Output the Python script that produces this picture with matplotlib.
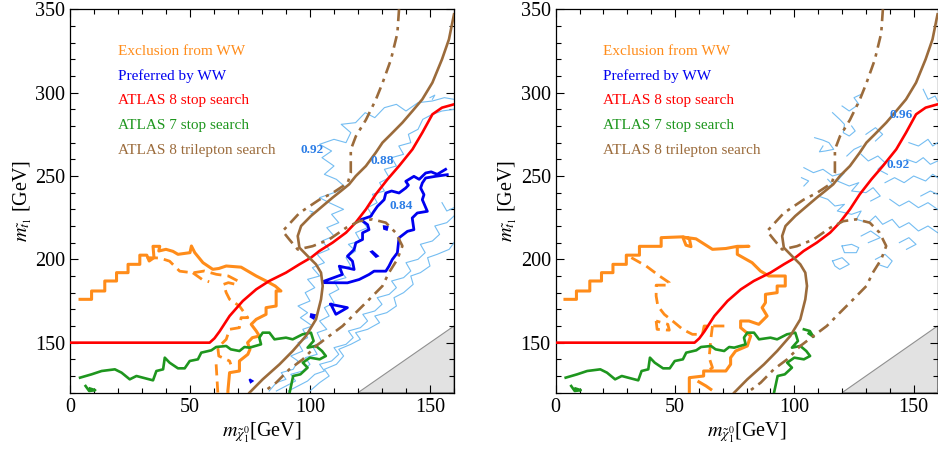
import numpy as np
import matplotlib
matplotlib.use("Agg")
import matplotlib.pyplot as plt
from matplotlib.ticker import MultipleLocator

plt.rcParams['font.family'] = ['Liberation Serif', 'DejaVu Serif']
plt.rcParams['mathtext.fontset'] = 'stix'

# ---- curves, (m_chi, m_stop) in GeV ----
atlas8_stop = [(0, 150), (58.2, 150), (60.2, 152.6), (62.3, 156.7), (66.5, 166), (72, 175),
               (77.6, 182), (83, 187), (90, 192), (95.6, 197), (100.4, 201), (103.9, 205),
               (109.4, 210), (115, 216), (119, 222), (123.3, 230), (127.4, 239), (132.3, 248),
               (137.1, 256), (142.7, 266), (146.8, 276), (151, 287), (155, 291), (160, 293)]

trilep_solid = [(74.8, 120), (80.3, 128), (87.3, 137), (92.8, 145), (98.3, 154), (102.5, 164),
                (104.6, 176), (105.3, 184), (104.6, 192), (102.5, 197), (99, 202), (95.6, 207),
                (94.9, 214), (96.3, 220), (100.4, 226), (105.3, 232), (109.4, 237), (112.9, 241),
                (116.3, 245), (119.1, 250), (123.3, 256), (127.4, 264), (130.2, 270), (133.7, 275),
                (138.5, 282), (142.7, 289), (146.8, 296), (151, 306), (155, 320), (157.9, 332),
                (160, 347)]

trilep_dashdot = [(137.1, 350), (136.4, 335.6), (133.7, 319.7), (130.2, 305.7), (127.4, 295.7),
                  (123.3, 283.7), (119.1, 273.8), (117, 265.8), (117, 251.8), (115.7, 245.8),
                  (109.4, 239.8), (103.9, 235.8), (95.6, 227.8), (88.6, 216.9), (91.4, 211.9),
                  (94.9, 205.9), (101.1, 207.9), (108, 211.9), (115, 218.9), (120.5, 222.9),
                  (126, 224), (131.6, 222), (135.7, 216), (138.5, 208), (136.4, 200), (132.9, 192),
                  (130.2, 184), (124.7, 176), (119.1, 168), (113.6, 160), (108, 154), (102.5, 148),
                  (97, 140), (91.4, 134), (85.9, 126), (80.3, 120)]

atlas7_stop = [(4.2, 129), (9, 131), (11.1, 132), (13.2, 133), (18.7, 134), (21.5, 132), (24.9, 128),
               (27.7, 130), (34.6, 127.4), (36, 133), (38.8, 134), (39.5, 141), (41.5, 138),
               (45, 134.6), (47.8, 134.6), (49.9, 139), (53.3, 140), (54.7, 144), (58.9, 145.4),
               (60.9, 147.4), (65.1, 148), (67, 146), (70.6, 145), (72.7, 147.4), (74.8, 147),
               (79.6, 149), (78.9, 153), (80.3, 156), (83.1, 156), (85.2, 152), (90, 153),
               (92.8, 152), (96.9, 155), (100.4, 156), (101.5, 151), (99, 147), (102.5, 148),
               (105, 145), (106.6, 142), (104, 140), (100, 141), (97, 138), (99, 135), (96, 131),
               (93, 130), (91.5, 120)]
atlas7_hook = [(6.5, 124), (8, 121), (10.5, 121.5), (8.3, 122.5)]
atlas7_hook_right = [(104, 158), (106.5, 157), (108, 153.5), (106, 155.5)]

# left panel: WW exclusion and preferred region
ww_excl_left = [(4.2, 176), (9, 176), (9, 181), (14.5, 181), (14.5, 187), (19.4, 187), (19.4, 192),
                (24.2, 192), (24.2, 197), (29.1, 197), (29.1, 202.5), (32, 202.5), (33, 199),
                (35, 201), (34.6, 207.8), (37.4, 207.8), (37, 205), (40, 206), (42.9, 204.8),
                (45, 203), (50, 204), (50.6, 208), (52, 204), (55.4, 198), (59.5, 194), (62, 194.5),
                (65.1, 196), (71.3, 195.3), (77.6, 190), (81.7, 187), (85.5, 184), (87.9, 181),
                (85.9, 181), (85.9, 172), (81.7, 171), (81.7, 167), (77.6, 164), (75.5, 161),
                (77.6, 157), (78.9, 154), (76, 153), (74, 150), (75, 146), (74.1, 143), (70.6, 139),
                (70.6, 133), (66.5, 132), (65.8, 121), (65.8, 120)]
ww_excl_left_dash = [(32, 201), (37.4, 200.8), (41.5, 198.9), (45.7, 192.9), (51.2, 191.9),
                     (56, 193), (61, 191), (66, 190), (70, 187), (69, 185), (66, 186), (64, 185),
                     (65.1, 180), (66.5, 176), (70.6, 172), (74.1, 165), (71.3, 165), (70.6, 159),
                     (66.5, 158), (65.1, 152), (61.6, 147), (62, 142), (66.5, 139), (67, 137)]
ww_excl_left_dash2 = [(51.2, 191.9), (55, 188), (58, 186.5)]
ww_excl_left_dash3 = [(60.9, 137), (61.6, 120)]

ww_pref_left = [(156.5, 254), (153, 251), (150.5, 252.5), (148.2, 251.8), (145.5, 248), (143.3, 249.8),
                (139.9, 246.8), (141, 244.5), (139.9, 242.8), (137.1, 239.8), (134, 241), (131.6, 239.8),
                (130.9, 235.8), (128.1, 231.8), (126.5, 228.5), (125.3, 225.8),
                (121.2, 223.8), (124, 220.8), (124.6, 217.8), (121.9, 215.9), (121.9, 211.9),
                (119.1, 209.9), (118.4, 205.9), (115.6, 201.9), (117.7, 198.9), (118.4, 193.9),
                (112.2, 195.9), (113.5, 190.9), (105.9, 186.9), (105.9, 186), (115.6, 185.9),
                (120.5, 187.9), (124.6, 190.9), (126.7, 192.9), (131.6, 192.9), (132.9, 195.9),
                (134.3, 199.9), (136.4, 203.9), (137.1, 212.9), (140.6, 216.8), (143.3, 217.8),
                (142.6, 224.8), (144.7, 227.8), (148.9, 228.8), (146.8, 235.8), (147.5, 238.8),
                (146.1, 242.8), (146.8, 245.8), (148.2, 248.8), (152.3, 249.8), (157.2, 250.8)]
ww_pref_blobs = [[(130.8, 219.8), (132.3, 219.5), (132, 217.8), (130.9, 218.3)],
                 [(125.5, 204.5), (127.5, 201.5), (128.2, 202), (126, 204.8)],
                 [(100.5, 167), (102, 166.5), (101.5, 164.5), (100.3, 165.5)],
                 [(74.8, 128), (76, 127), (75.3, 126.3)]]
ww_pref_triangle = [(108.7, 173), (115.6, 171), (110.8, 167), (108.7, 173)]

ww_levels_left = [
    [(83, 121), (86, 126), (90, 128), (88, 132), (93, 134), (95, 139), (92, 142), (97, 145), (95, 150),
     (99, 153), (97, 158), (101, 160), (96, 165), (99, 168), (95, 172), (100, 175), (98, 180),
     (102, 183), (99, 188), (104, 190), (101, 195), (106, 198), (103, 203), (108, 206), (105, 211),
     (110, 214), (107, 219), (112, 222), (109, 227), (114, 230), (108, 234), (104, 237), (110, 240),
     (115, 243), (111, 248), (106, 251), (110, 256), (105, 261), (109, 265), (104, 269), (110, 272),
     (115, 270), (117, 276), (113, 281), (119, 282), (123, 288), (127, 285), (131, 291), (136, 293),
     (140, 289), (145, 294), (151, 295), (156, 297), (160, 296)],
    [(86, 121), (90, 124), (94, 127), (92, 131), (97, 133), (100, 137), (98, 141), (103, 143),
     (101, 148), (105, 150), (103, 156), (107, 158), (104, 163), (108, 166), (106, 171), (110, 174),
     (108, 179), (112, 182), (110, 187), (115, 189), (112, 194), (117, 196), (115, 201), (119, 205),
     (116, 209), (121, 211), (119, 216), (124, 219), (121, 224), (126, 226), (124, 231), (128, 234),
     (126, 239), (131, 241), (129, 246), (133, 249), (131, 254), (136, 256), (134, 261), (139, 263),
     (137, 268), (142, 270), (141, 275), (145, 278), (147, 284), (151, 287), (155, 289), (160, 290)],
    [(91, 121), (95, 124), (99, 127), (102, 131), (106, 133), (104, 137), (109, 139), (112, 143),
     (110, 147), (115, 149), (118, 153), (116, 157), (121, 159), (124, 163), (122, 167), (127, 169),
     (130, 173), (128, 177), (133, 179), (136, 183), (134, 187), (139, 189), (142, 193), (140, 198),
     (145, 200), (148, 204), (146, 209), (151, 211), (154, 215), (152, 220), (157, 222), (160, 226)],
    [(100, 121), (104, 126), (108, 130), (106, 134), (111, 137), (114, 142), (112, 146), (117, 149),
     (121, 152), (119, 156), (124, 158), (129, 162), (127, 166), (132, 168), (136, 172), (135, 177),
     (139, 180), (143, 185), (142, 190), (146, 192), (150, 196), (149, 201), (153, 203), (158, 206),
     (160, 210)],
    [(155, 234), (157, 229), (160, 231)],
    [(150, 297), (152, 298.5), (151, 296)],
    [(100, 229), (102, 228), (100.5, 227.5)],
]

# right panel: WW exclusion and fit-quality levels
ww_excl_right = [(3.9, 176), (8.7, 176), (8.7, 181), (14.3, 181), (14.3, 187), (19.2, 187), (19.2, 192),
                 (24, 192), (24, 197), (29.6, 197), (29.6, 202.5), (35.1, 202.5), (35.1, 207.8),
                 (44.2, 207.8), (44.2, 213), (53.2, 213.5), (54.6, 208.5), (56.7, 207.6), (56, 212.5),
                 (53.5, 213.3), (58.8, 212.3), (65.7, 206), (71.3, 206.5), (76.1, 207.8), (81, 207.8),
                 (76.1, 207.5), (76.1, 203), (82.3, 198), (85.8, 193), (89.3, 190), (96.2, 190),
                 (96.2, 184), (92.8, 184), (92.8, 180), (87.9, 179), (87.9, 174), (86.5, 171),
                 (88.6, 166), (85.1, 161), (81, 163), (77.5, 163), (77.5, 159), (81.7, 154),
                 (80.3, 148), (75.4, 145), (73.3, 141), (73.3, 137), (71.3, 133), (62, 133),
                 (62, 130), (56, 129), (56, 120)]
ww_excl_right_b = [(60, 126.5), (63, 124), (65, 122)]
ww_excl_right_dash = [(31.7, 201), (37.9, 196), (43.5, 190), (47.6, 186), (47.6, 184.5),
                      (42.1, 184.5), (42.1, 178), (42.8, 172), (45.5, 167), (49, 163), (53.2, 158),
                      (57.3, 155), (61.5, 155), (62.2, 160), (67.1, 160), (71.2, 160)]
ww_excl_right_dash2 = [(65.7, 160), (65, 152), (64.3, 141), (65.7, 135), (63.6, 133)]
ww_excl_right_dash3 = [(42.1, 163), (42.5, 158), (47.6, 157.5), (47, 161), (42.1, 163)]

ww_levels_right = [
    [(116, 288), (119, 284), (121, 281), (120.5, 276), (123, 274), (125.5, 277), (124, 280)],
    [(108.5, 273), (112, 271.5), (114.5, 270), (116.5, 266), (113, 265), (110.5, 264.5), (112, 268)],
    [(104, 255), (108, 252), (112, 254), (116, 250), (121, 252), (118, 247), (123, 244), (127, 246),
     (124, 241), (130, 240), (133, 243), (136, 238), (132, 235)],
    [(110, 238), (114, 236), (117, 232), (121, 233), (118, 229), (124, 227), (128, 229), (126, 224),
     (131, 222), (134, 226), (137, 221), (141, 224), (144, 219), (148, 222), (152, 217), (156, 220),
     (160, 216)],
    [(120, 208), (124, 209), (127, 207), (126, 204), (121, 204), (120, 208)],
    [(116, 199), (120, 201), (123, 197), (119, 194), (117, 196), (116, 199)],
    [(134, 200), (138, 203), (141, 199), (139, 195), (135, 197)],
    [(138, 246), (142, 249), (146, 246), (150, 250), (155, 247), (158, 251), (160, 249)],
    [(147, 260), (151, 258), (154, 261), (157, 257), (160, 259)],
    [(148, 270), (152, 268), (156, 272), (158, 268), (160, 270)],
    [(154, 302), (156, 296), (159, 298), (160, 295)],
    [(128, 263), (131, 259), (135, 262), (138, 258), (135, 254), (139, 251)],
    [(140, 236), (144, 232), (148, 235), (152, 231), (156, 234), (160, 230)],
    [(112, 242), (116, 245), (114, 248)],
    [(120, 292), (123, 289), (127, 293), (125, 297), (128, 299)],
    [(130, 275), (134, 279), (137, 275), (134, 271)],
    [(122, 262), (125, 266), (128, 268)],
    [(128, 214), (132, 217), (136, 213), (131, 210)],
    [(144, 210), (148, 213), (151, 209), (147, 206)],
    [(153, 238), (157, 241), (160, 239)],
    [(104, 244), (106, 247), (103, 249)],
]

legend_names = ["Exclusion from WW", "Preferred by WW", "ATLAS 8 stop search",
                "ATLAS 7 stop search", "ATLAS 8 trilepton search"]
legend_y = [324.5, 310, 295, 280, 265]

labels_left = [("0.92", 101, 265.7), ("0.88", 130.2, 259.2), ("0.84", 137.8, 231.8)]
labels_right = [("0.96", 144.6, 286.3), ("0.92", 143.5, 256.4)]

ORANGE = '#FF8C1A'
BLUE = '#0000F0'
RED = '#FF0000'
GREEN = '#1E961E'
BROWN = '#9B6B3B'
LIGHTBLUE = '#74BDF2'
LABELBLUE = '#2B7DE6'
legend_colors = [ORANGE, BLUE, RED, GREEN, BROWN]

DASH = (0, (4, 2.2))
DASHDOT = (0, (4.5, 2.2, 1.3, 2.2))


def line(ax, pts, **kw):
    a = np.array(pts, dtype=float)
    ax.plot(a[:, 0], a[:, 1], **kw)


def common(ax, labels):
    ax.fill([120, 160, 160], [120, 160, 120], facecolor='#E2E2E2', edgecolor='#909090', lw=0.8, zorder=1)
    line(ax, atlas8_stop, color=RED, lw=1.9, zorder=5)
    line(ax, trilep_solid, color=BROWN, lw=1.9, zorder=5)
    line(ax, trilep_dashdot, color=BROWN, lw=1.9, ls=DASHDOT, zorder=5)
    line(ax, atlas7_stop, color=GREEN, lw=1.9, zorder=4)
    line(ax, atlas7_hook, color=GREEN, lw=1.9, zorder=4)
    for name, y, c in zip(legend_names, legend_y, legend_colors):
        ax.text(20, y, name, color=c, fontsize=11, va='center', ha='left')
    for txt, x, y in labels:
        ax.text(x, y, txt, color=LABELBLUE, fontsize=9.5, fontweight='bold', ha='center', va='center', zorder=6)
    ax.set_xlim(0, 160)
    ax.set_ylim(120, 350)
    ax.xaxis.set_major_locator(MultipleLocator(50))
    ax.xaxis.set_minor_locator(MultipleLocator(10))
    ax.yaxis.set_major_locator(MultipleLocator(50))
    ax.yaxis.set_minor_locator(MultipleLocator(10))
    ax.tick_params(which='both', direction='in', top=True, right=True, labelsize=14.5, width=0.8)
    ax.tick_params(which='major', length=6)
    ax.tick_params(which='minor', length=3.5)
    for s in ax.spines.values():
        s.set_linewidth(0.9)
    ax.set_xlabel(r'$m_{\tilde{\chi}_1^0}$[GeV]', fontsize=14.5, labelpad=3)
    ax.set_ylabel(r'$m_{\tilde{t}_1}$ [GeV]', fontsize=14.5, labelpad=1)


fig = plt.figure(figsize=(9.38, 4.55), dpi=100)
ax1 = fig.add_axes([0.0746, 0.137, 0.4094, 0.8425])
ax2 = fig.add_axes([0.5924, 0.137, 0.4071, 0.8425])

# left panel
for pts in ww_levels_left:
    line(ax1, pts, color=LIGHTBLUE, lw=0.8, zorder=2)
line(ax1, ww_pref_left, color=BLUE, lw=2.0, zorder=3)
line(ax1, ww_pref_triangle, color=BLUE, lw=2.0, zorder=3)
for pts in ww_pref_blobs:
    a = np.array(pts)
    ax1.fill(a[:, 0], a[:, 1], color=BLUE, lw=1.5, zorder=3)
line(ax1, ww_excl_left, color=ORANGE, lw=2.2, zorder=4)
line(ax1, ww_excl_left_dash, color=ORANGE, lw=2.0, ls=DASH, zorder=4)
line(ax1, ww_excl_left_dash2, color=ORANGE, lw=2.0, ls=DASH, zorder=4)
line(ax1, ww_excl_left_dash3, color=ORANGE, lw=2.0, ls=DASH, zorder=4)
common(ax1, labels_left)

# right panel
for pts in ww_levels_right:
    line(ax2, pts, color=LIGHTBLUE, lw=0.8, zorder=2)
line(ax2, ww_excl_right, color=ORANGE, lw=2.2, zorder=4)
line(ax2, ww_excl_right_b, color=ORANGE, lw=2.2, zorder=4)
line(ax2, ww_excl_right_dash, color=ORANGE, lw=2.0, ls=DASH, zorder=4)
line(ax2, ww_excl_right_dash2, color=ORANGE, lw=2.0, ls=DASH, zorder=4)
line(ax2, ww_excl_right_dash3, color=ORANGE, lw=2.0, ls=DASH, zorder=4)
line(ax2, atlas7_hook_right, color=GREEN, lw=1.9, zorder=4)
common(ax2, labels_right)

fig.savefig('out.png', dpi=100)
